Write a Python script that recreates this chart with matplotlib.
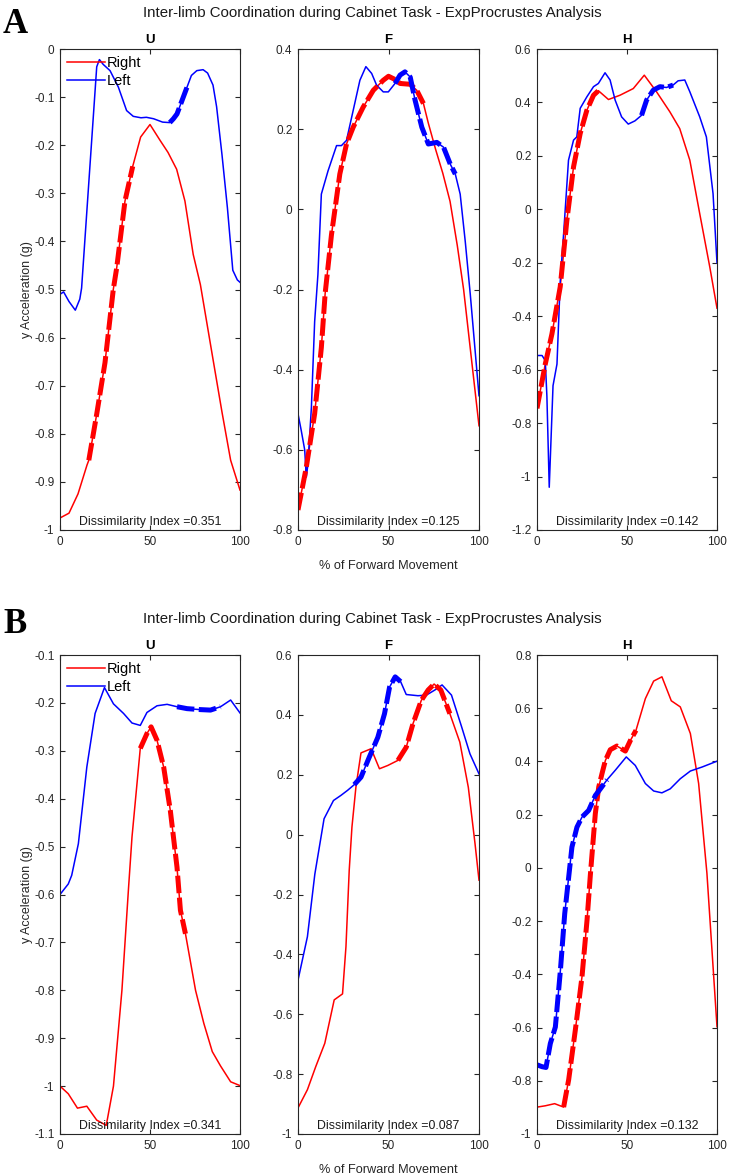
import numpy as np
import matplotlib
matplotlib.use("Agg")
import matplotlib.pyplot as plt
from matplotlib.ticker import FuncFormatter

plt.rcParams['font.family'] = ['Liberation Sans', 'DejaVu Sans']

# ---- Panel A data ----
a_u_right_x = [0, 5, 10, 15, 16, 20.4, 25, 29.6, 31.5, 36.1, 40.4, 44.8, 50, 55.6, 60, 64.8, 69.4, 74, 78, 85, 90, 94.8, 100]
a_u_right_y = [-0.975, -0.965, -0.925, -0.865, -0.855, -0.759, -0.652, -0.5, -0.455, -0.316, -0.244, -0.183, -0.157,
               -0.19, -0.215, -0.25, -0.316, -0.427, -0.49, -0.645, -0.755, -0.855, -0.917]
a_u_left_x = [0, 2, 5, 8.5, 11, 12, 20.4, 21.9, 24, 27.8, 32.4, 37, 40.7, 45, 48, 52, 57, 61, 63, 65, 68, 71, 73, 76,
              79.5, 82, 85, 87, 90, 93, 96, 98.5, 100]
a_u_left_y = [-0.51, -0.505, -0.525, -0.543, -0.52, -0.497, -0.037, -0.022, -0.032, -0.045, -0.079, -0.128, -0.14,
              -0.143, -0.142, -0.145, -0.152, -0.153, -0.145, -0.135, -0.105, -0.075, -0.055, -0.045, -0.043, -0.05,
              -0.075, -0.12, -0.22, -0.33, -0.46, -0.48, -0.485]

a_f_right_x = [0, 4.6, 9.2, 12.9, 15, 18.5, 23.1, 26.8, 30.5, 36, 41.6, 47.1, 50, 53.6, 56.4, 62, 65.6, 69.3, 72, 76,
               80, 84, 88, 91.5, 100]
a_f_right_y = [-0.75, -0.643, -0.51, -0.345, -0.21, -0.063, 0.088, 0.163, 0.205, 0.255, 0.297, 0.322, 0.332, 0.324,
               0.314, 0.312, 0.297, 0.264, 0.215, 0.15, 0.09, 0.02, -0.09, -0.2, -0.54]
a_f_left_x = [0, 1.8, 3.7, 4.6, 5.5, 7.4, 9.2, 11, 12.9, 16.6, 21.3, 24, 26.8, 30.5, 34.2, 37.5, 40.7, 43.4, 47.1, 49.9,
              53.6, 56.4, 59.1, 62, 64.7, 68.4, 72, 76.7, 80.4, 84.1, 86.9, 89.6, 92.4, 95.2, 100]
a_f_left_y = [-0.51, -0.552, -0.6, -0.668, -0.635, -0.494, -0.28, -0.163, 0.038, 0.096, 0.159, 0.159, 0.172, 0.247,
              0.322, 0.356, 0.339, 0.31, 0.293, 0.293, 0.314, 0.335, 0.343, 0.33, 0.272, 0.205, 0.163, 0.167, 0.155,
              0.113, 0.088, 0.038, -0.08, -0.213, -0.465]

a_h_right_x = [0, 4.6, 8.3, 12.9, 16.6, 20.3, 24, 27.7, 31.4, 34.1, 39.7, 46.1, 53.5, 59.6, 66.4, 73.8, 79.3, 84.9,
               90.4, 96, 100]
a_h_right_y = [-0.745, -0.579, -0.466, -0.29, -0.041, 0.159, 0.284, 0.371, 0.427, 0.444, 0.411, 0.427, 0.452, 0.502,
               0.44, 0.365, 0.302, 0.184, -0.016, -0.216, -0.37]
a_h_left_x = [0, 2.8, 4.6, 5.5, 6.8, 8.9, 11.1, 12.9, 14.8, 17.5, 20.3, 22.1, 24, 27.7, 31.4, 34.1, 37.8, 40.6, 43.4,
              47, 50.7, 54.4, 58.1, 60.9, 64.6, 68.3, 71.9, 75.6, 78.4, 82.1, 84.9, 90.4, 94.1, 97.8, 100]
a_h_left_y = [-0.547, -0.547, -0.566, -0.7, -1.04, -0.66, -0.579, -0.27, -0.09, 0.184, 0.259, 0.271, 0.378, 0.421,
              0.459, 0.471, 0.511, 0.484, 0.409, 0.346, 0.319, 0.331, 0.352, 0.409, 0.446, 0.459, 0.456, 0.465, 0.481,
              0.484, 0.44, 0.346, 0.271, 0.059, -0.2]

# ---- Panel B data ----
b_u_right_x = [0, 4.6, 9.7, 14.9, 20.4, 25.7, 29.7, 34.4, 38.1, 40, 44.6, 48.3, 50.6, 53.9, 57.6, 61.3, 65, 66.9,
               69.7, 75.3, 79.9, 84.6, 89.2, 94.8, 100]
b_u_right_y = [-1.0, -1.016, -1.046, -1.042, -1.071, -1.082, -1.0, -0.8, -0.585, -0.48, -0.295, -0.264, -0.25, -0.278,
               -0.334, -0.425, -0.543, -0.633, -0.682, -0.8, -0.869, -0.928, -0.958, -0.991, -0.999]
b_u_left_x = [0, 4.6, 6.5, 10.2, 14.9, 19.5, 24.7, 29.7, 35.3, 40, 44.6, 48.3, 53.9, 59.5, 65, 70.6, 78, 83.6, 89.2,
              94.8, 100]
b_u_left_y = [-0.6, -0.578, -0.56, -0.494, -0.334, -0.222, -0.168, -0.202, -0.222, -0.242, -0.247, -0.22, -0.206,
              -0.203, -0.208, -0.212, -0.214, -0.215, -0.208, -0.194, -0.221]

b_f_right_x = [0, 5.2, 9.8, 14.8, 20, 24.6, 26.5, 28.3, 29.8, 32, 34.8, 40.4, 45, 49.6, 55.2, 59.8, 63.5, 68.1, 71.9,
               75.2, 78.9, 83.9, 89.4, 94.1, 97.8, 100]
b_f_right_y = [-0.913, -0.852, -0.775, -0.697, -0.552, -0.532, -0.374, -0.119, 0.025, 0.159, 0.273, 0.287, 0.22,
               0.231, 0.248, 0.292, 0.37, 0.448, 0.483, 0.503, 0.483, 0.404, 0.309, 0.158, -0.03, -0.152]
b_f_left_x = [0, 5.2, 9.3, 14.4, 19.6, 23.7, 27.4, 31.1, 34.8, 39.4, 44.1, 47.8, 50.6, 53.7, 56.7, 59.8, 66.3, 70.9,
              75.6, 79.6, 84.8, 90.4, 95, 100]
b_f_left_y = [-0.486, -0.341, -0.132, 0.053, 0.114, 0.131, 0.148, 0.167, 0.192, 0.259, 0.325, 0.404, 0.493, 0.527,
              0.511, 0.468, 0.464, 0.466, 0.483, 0.5, 0.466, 0.36, 0.27, 0.203]

b_h_right_x = [0, 4.6, 9.8, 14.8, 17.6, 21.3, 25, 27.8, 29.6, 32.4, 34.3, 36.1, 38, 40.7, 44.4, 49.1, 51.9, 55, 60.2,
               64.8, 69.4, 74.6, 79.6, 85.2, 89.8, 94.4, 100]
b_h_right_y = [-0.899, -0.894, -0.886, -0.899, -0.796, -0.609, -0.409, -0.196, -0.03, 0.204, 0.304, 0.354, 0.404,
               0.444, 0.458, 0.439, 0.479, 0.517, 0.636, 0.702, 0.718, 0.628, 0.605, 0.505, 0.317, -0.02, -0.597]
b_h_left_x = [0, 2.8, 5, 7.4, 10.2, 13, 15.4, 18, 19.4, 22.2, 25, 28.7, 32.4, 35.2, 38.9, 43.5, 49.6, 54.6, 60.2, 64.8,
              69.4, 74, 79.6, 85.2, 91.7, 100]
b_h_left_y = [-0.74, -0.747, -0.75, -0.66, -0.598, -0.385, -0.172, -0.01, 0.078, 0.153, 0.191, 0.216, 0.272, 0.297,
              0.331, 0.367, 0.417, 0.385, 0.317, 0.289, 0.282, 0.297, 0.335, 0.364, 0.379, 0.401]

# dashed (matched) segments: (start %, end %) for right / left
a_segments = {"U": ((16, 40.4), (61, 71)), "F": ((0, 69.3), (53.6, 86.9)), "H": ((0, 34.1), (58.1, 75.6))}
b_segments = {"U": ((44.6, 69.7), (65, 89.2)), "F": ((55.2, 83.9), (31.1, 56.7)), "H": ((14.8, 55), (0, 38.9))}

dissim_a = [0.351, 0.125, 0.142]
dissim_b = [0.341, 0.087, 0.132]

ylims_a = [(-1, 0, 0.1), (-0.8, 0.4, 0.2), (-1.2, 0.6, 0.2)]
ylims_b = [(-1.1, -0.1, 0.1), (-1, 0.6, 0.2), (-1, 0.8, 0.2)]

panel_names = ["U", "F", "H"]
title = "Inter-limb Coordination during Cabinet Task - ExpProcrustes Analysis"

data_a = [(a_u_right_x, a_u_right_y, a_u_left_x, a_u_left_y),
          (a_f_right_x, a_f_right_y, a_f_left_x, a_f_left_y),
          (a_h_right_x, a_h_right_y, a_h_left_x, a_h_left_y)]
data_b = [(b_u_right_x, b_u_right_y, b_u_left_x, b_u_left_y),
          (b_f_right_x, b_f_right_y, b_f_left_x, b_f_left_y),
          (b_h_right_x, b_h_right_y, b_h_left_x, b_h_left_y)]

W, H = 732, 1174
fig = plt.figure(figsize=(W / 100, H / 100), dpi=100)

axcol = '#262626'
xl = [60, 298, 537]
wd = [180, 181, 180]


def fmt(v, pos):
    s = "%g" % round(v, 3)
    return "0" if s == "-0" else s


def draw_row(top, bottom, data, segs, dis, ylims, letter, letter_base):
    fig.text(3 / W, 1 - letter_base / H, letter, fontsize=25, fontweight='bold',
             family='Liberation Serif', ha='left', va='baseline')
    fig.text(372 / W, 1 - (top - 36) / H, title, fontsize=10.8, ha='center', va='center', color='#1a1a1a')
    axes = []
    for i in range(3):
        ax = fig.add_axes([xl[i] / W, 1 - bottom / H, wd[i] / W, (bottom - top) / H])
        rx, ry, lx, ly = map(np.array, data[i])
        ax.plot(rx, ry, color='red', lw=1.1, label='Right')
        ax.plot(lx, ly, color='blue', lw=1.1, label='Left')
        (r0, r1), (l0, l1) = segs[panel_names[i]]
        m = (rx >= r0) & (rx <= r1)
        ax.plot(rx[m], ry[m], color='red', lw=3.6, linestyle=(0, (3.5, 0.9)))
        m = (lx >= l0) & (lx <= l1)
        ax.plot(lx[m], ly[m], color='blue', lw=3.6, linestyle=(0, (3.5, 0.9)))
        lo, hi, st = ylims[i]
        ax.set_xlim(0, 100)
        ax.set_ylim(lo, hi)
        ax.set_xticks([0, 50, 100])
        ax.set_yticks(np.arange(lo, hi + st / 2, st))
        ax.yaxis.set_major_formatter(FuncFormatter(fmt))
        ax.tick_params(direction='in', top=True, right=True, length=3.5, width=0.8,
                       labelsize=8.5, colors=axcol, pad=4)
        for s in ax.spines.values():
            s.set_color(axcol)
            s.set_linewidth(0.8)
        ax.set_title(panel_names[i], fontsize=9.5, fontweight='bold', pad=4)
        ax.text(0.5, 0.005, "Dissimilarity Index =%.3f" % dis[i], transform=ax.transAxes,
                ha='center', va='bottom', fontsize=8.9, color='#1a1a1a')
        axes.append(ax)
    axes[0].set_ylabel("y Acceleration (g)", fontsize=9, color=axcol)
    axes[0].yaxis.set_label_coords(-0.15, 0.5)
    axes[1].set_xlabel("% of Forward Movement", fontsize=9.2, color=axcol)
    axes[1].xaxis.set_label_coords(0.5, -0.062)
    axes[0].legend(loc='upper left', bbox_to_anchor=(0.04, 0.985), frameon=False, fontsize=10.5,
                   handlelength=2.6, handletextpad=0.1, labelspacing=0.25, borderaxespad=0, borderpad=0)


draw_row(49, 530, data_a, a_segments, dissim_a, ylims_a, "A", 33)
draw_row(655, 1134, data_b, b_segments, dissim_b, ylims_b, "B", 633)

fig.savefig("out.png", dpi=100)
